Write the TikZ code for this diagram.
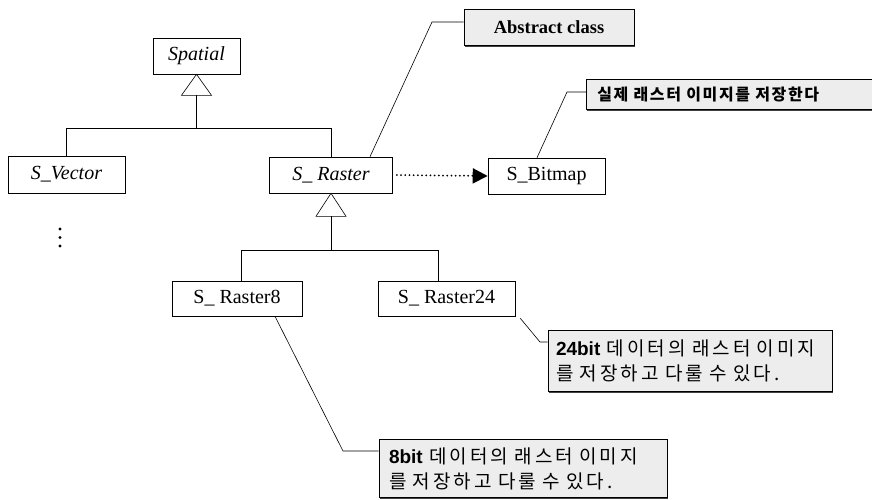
\documentclass[tikz,border=0pt]{standalone}
\usepackage{fontspec}
\setmainfont{Liberation Serif}
\newfontfamily\cjk{Noto Sans CJK KR}
\newfontfamily\cjksp[LetterSpace=16]{Noto Sans CJK KR}
\newfontfamily\cjkone[LetterSpace=10]{Noto Sans CJK KR}
\newfontfamily\arialf{Liberation Sans}
\usetikzlibrary{arrows.meta,shadows,calc}
\begin{document}
\begin{tikzpicture}[x=1pt,y=-1pt,
  cls/.style={draw, line width=0.6pt, inner sep=0pt, minimum height=36pt, font=\fontsize{20}{22}\selectfont},
  note/.style={draw, line width=0.6pt, fill=gray!14, inner xsep=4pt, inner ysep=0pt,
     drop shadow={shadow xshift=1pt, shadow yshift=-1.3pt, opacity=1, fill=black!75}},
  conn/.style={line width=0.6pt},
  tri/.style={draw, line width=0.6pt, fill=white}
]
\useasboundingbox (0,0) rectangle (872,499);
\fill[white] (0,0) rectangle (872,499);

% class boxes
\node[cls, minimum width=87pt] (sp) at (196.5,56) {\textit{Spatial}};
\node[cls, minimum width=117pt, minimum height=37pt] (sv) at (66.5,174.5) {\textit{S\_Vector}};
\node[cls, minimum width=123pt] (sr) at (331,175) {\textit{S\_ Raster}};
\node[cls, minimum width=117pt] (sb) at (546.5,176) {S\_Bitmap};
\node[cls, minimum width=130pt, minimum height=35pt] (r8) at (237,298.5) {S\_ Raster8};
\node[cls, minimum width=137pt, minimum height=35pt] (r24) at (446.5,298.5) {S\_ Raster24};

% notes
\node[note, minimum width=170pt, minimum height=36pt, font=\fontsize{18.5}{20}\selectfont\bfseries] (ab) at (549,27.5) {Abstract class};
\node[note, minimum width=300pt, minimum height=30pt, text width=292pt, align=left, anchor=west, font=\fontsize{16}{18}\selectfont] (n1) at (586,94.5) {\hspace*{7pt}\cjkone\bfseries 실제 래스터 이미지를 저장한다};
\node[note, minimum height=61pt, text width=276pt, align=left, font=\fontsize{19}{25}\selectfont] (n24) at (690,361) {\hspace*{4pt}{\arialf\bfseries 24bit} {\cjksp 데이터의 래스터 이미지}\\\hspace*{4pt}{\cjksp 를 저장하고 다룰 수 있다.}};
\node[note, minimum height=58pt, text width=280pt, align=left, font=\fontsize{19}{25}\selectfont] (n8) at (523,468.5) {\hspace*{6pt}{\arialf\bfseries 8bit} {\cjksp 데이터의 래스터 이미지}\\\hspace*{6pt}{\cjksp 를 저장하고 다룰 수 있다.}};

% generalization Spatial
\draw[tri] (sp.south) -- ++(-15,21) -- ++(30,0) -- cycle;
\coordinate (j1) at ($(sp.south)+(0,54)$);
\draw[conn] ($(sp.south)+(0,21)$) -- (j1);
\draw[conn] (sv.north) |- (j1) -| (sr.north);

% generalization S_Raster
\draw[tri] (sr.south) -- ++(-15,23) -- ++(30,0) -- cycle;
\coordinate (j2) at ($(sr.south)+(0,57)$);
\draw[conn] ($(sr.south)+(0,23)$) -- (j2);
\draw[conn] ([xshift=4pt]r8.north) |- (j2) -| ([xshift=-8.5pt]r24.north);

% dependency
\draw[line width=2pt, dash pattern=on 0pt off 4.2pt, line cap=round,
  -{Triangle[length=15pt,width=15pt]}] ([xshift=4pt]sr.east) -- (sb.west);

% dots
\foreach \yy in {229,237.5,246} \fill (60,\yy) circle (1.6);

% note connectors
\coordinate (c1) at (432,22);
\draw[conn] ([xshift=39pt]sr.north) -- (c1) -- ([yshift=5.5pt]ab.west);
\coordinate (c2) at (567,92);
\draw[conn] ([xshift=-9.5pt]sb.north) -- (c2) -- ([yshift=2.5pt]n1.west);
\coordinate (c3) at (540,342);
\draw[conn] ([xshift=5pt,yshift=-2pt]r24.south east) -- (c3) -- ([yshift=19pt]n24.west);
\coordinate (c4) at (343,451);
\draw[conn] ([xshift=38pt]r8.south) -- (c4) -- ([yshift=17.5pt]n8.west);
\end{tikzpicture}
\end{document}
